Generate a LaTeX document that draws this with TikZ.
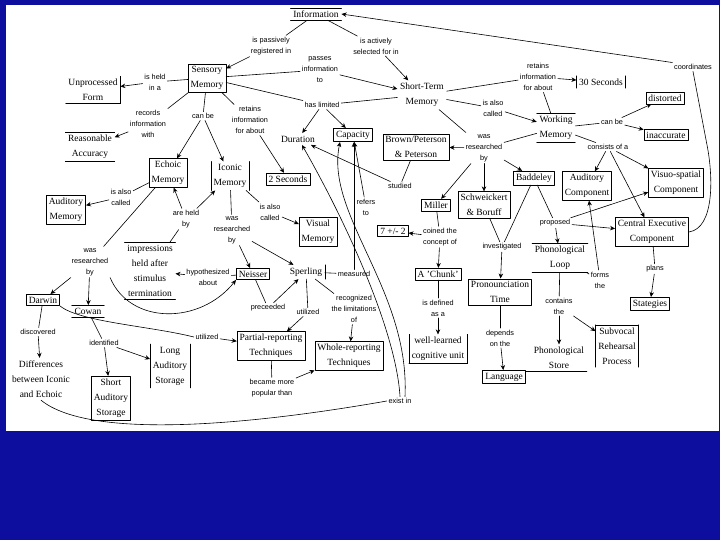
\documentclass[tikz,border=0pt]{standalone}
\usepackage{fontspec}
\setmainfont{Liberation Serif}
\newfontfamily\lblfont{Liberation Sans}
\usetikzlibrary{arrows.meta}
\definecolor{slideblue}{RGB}{14,14,158}
\begin{document}
\begin{tikzpicture}[x=1pt,y=-1pt,>={Stealth[length=5pt,width=4.5pt]},line width=0.6pt,line join=round,line cap=round,
	concept/.style={font=\fontsize{9.5}{15}\selectfont,align=center,inner sep=2.5pt},
	box/.style={concept,draw},
	hl/.style={concept,append after command={(\tikzlastnode.north west) edge (\tikzlastnode.north east) (\tikzlastnode.south west) edge (\tikzlastnode.south east)}},
	vl/.style={concept,append after command={(\tikzlastnode.north west) edge (\tikzlastnode.south west) (\tikzlastnode.north east) edge (\tikzlastnode.south east)}},
	rb/.style={concept,append after command={(\tikzlastnode.north east) edge (\tikzlastnode.south east) (\tikzlastnode.south west) edge (\tikzlastnode.south east)}},
	rl/.style={concept,append after command={(\tikzlastnode.north east) edge (\tikzlastnode.south east)}},
	lrb/.style={concept,append after command={(\tikzlastnode.north west) edge (\tikzlastnode.south west) (\tikzlastnode.south west) edge (\tikzlastnode.south east) (\tikzlastnode.south east) edge (\tikzlastnode.north east)}},
	tlr/.style={concept,append after command={(\tikzlastnode.south west) edge (\tikzlastnode.north west) (\tikzlastnode.north west) edge (\tikzlastnode.north east) (\tikzlastnode.north east) edge (\tikzlastnode.south east)}},
	lbl/.style={font=\lblfont\fontsize{7.3}{11}\selectfont,align=center,inner sep=1.5pt}]
	\useasboundingbox (0,0) rectangle (720,540);
	\fill[slideblue] (0,0) rectangle (720,540); % slide
	\fill[white] (6,5) rectangle (719,431);
	% concepts
	\node[hl] (info) at (316,14) {Information};
	\node[box] (sensory) at (207,78) {Sensory\\Memory};
	\node[rb] (unproc) at (93,90) {Unprocessed\\Form};
	\node[hl] (reason) at (90,147) {Reasonable\\Accuracy};
	\node[concept] (stm) at (422,95) {Short-Term\\Memory};
	\node[concept] (duration) at (298,139) {Duration};
	\node[box] (capacity) at (353,135) {Capacity};
	\node[box] (brown) at (416,147) {Brown/Peterson\\\& Peterson};
	\node[vl] (secthirty) at (601,82) {30 Seconds};
	\node[hl] (working) at (556,128) {Working\\Memory};
	\node[box] (distorted) at (665,98) {distorted};
	\node[box] (inaccurate) at (666,135) {inaccurate};
	\node[box] (echoic) at (168,173) {Echoic\\Memory};
	\node[vl] (iconic) at (230,176) {Iconic\\Memory};
	\node[box] (sectwo) at (288,179) {2 Seconds};
	\node[box] (audmem) at (66,210) {Auditory\\Memory};
	\node[box] (visual) at (318,232) {Visual\\Memory};
	\node[hl] (impress) at (150,271) {impressions\\held after\\stimulus\\termination};
	\node[box] (neisser) at (253,274) {Neisser};
	\node[rl] (sperling) at (306,272) {Sperling};
	\node[box] (baddeley) at (534,178) {Baddeley};
	\node[box] (schweick) at (484,205) {Schweickert\\\& Boruff};
	\node[box] (miller) at (436,205) {Miller};
	\node[box] (seven) at (393,231) {7 +/- 2};
	\node[box] (chunk) at (438,274) {A 'Chunk'};
	\node[lrb] (welllearn) at (438,349) {well-learned\\cognitive unit};
	\node[box] (audcomp) at (587,186) {Auditory\\Component};
	\node[box] (visuo) at (676,183) {Visuo-spatial\\Component};
	\node[box] (central) at (652,232) {Central Executive\\Component};
	\node[box] (stateg) at (650,304) {Stategies};
	\node[hl] (phonloop) at (560,258) {Phonological\\Loop};
	\node[box] (pron) at (500,292) {Pronounciation\\Time};
	\node[box] (language) at (504,377) {Language};
	\node[concept] (phonstore) at (559,358) {Phonological\\Store};
	\node[tlr] (subvocal) at (617,346) {Subvocal\\Rehearsal\\Process};
	\node[box] (partial) at (271,346) {Partial-reporting\\Techniques};
	\node[box] (whole) at (349,356) {Whole-reporting\\Techniques};
	\node[box] (darwin) at (43,300) {Darwin};
	\node[hl] (cowan) at (88,311) {Cowan};
	\node[concept] (differ) at (41,379) {Differences\\between Iconic\\and Echoic};
	\node[box] (shortaud) at (111,398) {Short\\Auditory\\Storage};
	\node[vl] (longaud) at (170,366) {Long\\Auditory\\Storage};
	% linking phrases
	\node[lbl] (lpassive) at (271,46) {is passively\\registered in};
	\node[lbl] (lactive) at (376,46) {is actively\\selected for in};
	\node[lbl] (lpasses) at (320,70) {passes\\information\\to};
	\node[lbl] (lheld) at (155,82) {is held\\in a};
	\node[lbl] (lrecords) at (148,124) {records\\information\\with};
	\node[lbl] (lcanbe) at (203,116) {can be};
	\node[lbl] (lretains) at (250,120) {retains\\information\\for about};
	\node[lbl] (llimited) at (322,105) {has limited};
	\node[lbl] (lretainsb) at (538,77) {retains\\information\\for about};
	\node[lbl] (lalsowm) at (493,108) {is also\\called};
	\node[lbl] (lcanbeb) at (612,122) {can be};
	\node[lbl] (lconsists) at (608,147) {consists of a};
	\node[lbl] (lresearched) at (484,148) {was\\researched\\by};
	\node[lbl] (lcoord) at (693,67) {coordinates};
	\node[lbl] (lalsoaud) at (121,197) {is also\\called};
	\node[lbl] (lalsovis) at (270,212) {is also\\called};
	\node[lbl] (lheldby) at (186,219) {are held\\by};
	\node[lbl] (lresearchic) at (232,230) {was\\researched\\by};
	\node[lbl] (lresearchec) at (90,262) {was\\researched\\by};
	\node[lbl] (lhypo) at (208,277) {hypothesized\\about};
	\node[lbl] (lstudied) at (400,186) {studied};
	\node[lbl] (lrefers) at (366,207) {refers\\to};
	\node[lbl] (lmeasured) at (354,274) {measured};
	\node[lbl] (lcoined) at (440,237) {coined the\\concept of};
	\node[lbl] (ldefined) at (438,308) {is defined\\as a};
	\node[lbl] (lproposed) at (555,223) {proposed};
	\node[lbl] (linvestig) at (502,247) {investigated};
	\node[lbl] (lforms) at (600,280) {forms\\the};
	\node[lbl] (lplans) at (655,269) {plans};
	\node[lbl] (ldepends) at (500,338) {depends\\on the};
	\node[lbl] (lcontains) at (559,306) {contains\\the};
	\node[lbl] (lpreceed) at (268,308) {preceeded};
	\node[lbl] (lutilsp) at (308,312) {utilized};
	\node[lbl] (lrecog) at (354,309) {recognized\\the limitations\\of};
	\node[lbl] (lpopular) at (272,388) {became more\\popular than};
	\node[lbl] (lutildar) at (207,337) {utilized};
	\node[lbl] (ldiscover) at (38,332) {discovered};
	\node[lbl] (lidentif) at (104,343) {identified};
	\node[lbl] (lexist) at (400,401) {exist in};
	% concept -- phrase
	\foreach \a/\b in {info/lpassive,info/lactive,sensory/lpasses,sensory/lheld,sensory/lrecords,sensory/lcanbe,
		sensory/lretains,sensory/llimited,stm/llimited,stm/lretainsb,working/lretainsb,stm/lalsowm,working/lcanbeb,
		working/lconsists,stm/lresearched,working/lresearched,echoic/lalsoaud,iconic/lalsovis,impress/lheldby,
		iconic/lresearchic,echoic/lresearchec,neisser/lhypo,brown/lstudied,sperling/lmeasured,miller/lcoined,
		chunk/ldefined,baddeley/lproposed,schweick/linvestig,baddeley/linvestig,phonloop/lforms,central/lplans,
		pron/ldepends,phonloop/lcontains,neisser/lpreceed,sperling/lutilsp,sperling/lrecog,partial/lpopular,
		darwin/ldiscover,cowan/lidentif}
		\draw (\a) -- (\b);
	% phrase -> concept
	\foreach \a/\b in {lpassive/sensory,lactive/stm,lpasses/stm,lheld/unproc,lrecords/reason,lcanbe/echoic,
		lcanbe/iconic,lretains/sectwo,llimited/duration,llimited/capacity,lretainsb/secthirty,lalsowm/working,
		lcanbeb/distorted,lcanbeb/inaccurate,lconsists/audcomp,lconsists/visuo,lconsists/central,lresearched/brown,
		lresearched/miller,lresearched/schweick,lresearched/baddeley,lalsoaud/audmem,lalsovis/visual,lheldby/echoic,
		lheldby/iconic,lresearchic/neisser,lresearchic/sperling,lresearchec/darwin,lresearchec/cowan,lhypo/impress,
		lstudied/duration,lrefers/capacity,lcoined/seven,lcoined/chunk,ldefined/welllearn,lproposed/phonloop,
		lproposed/central,lproposed/visuo,linvestig/pron,lforms/audcomp,lplans/stateg,ldepends/language,
		lcontains/phonstore,lcontains/subvocal,lpreceed/sperling,lutilsp/partial,lrecog/whole,lpopular/whole,
		lutildar/partial,ldiscover/differ,lidentif/shortaud,lidentif/longaud}
		\draw[->] (\a) -- (\b);
	% long ones
	\draw[->] (lcoord.north west) -- (info.east);
	\draw (central.east) .. controls (715,228) and (713,175) .. (707,145) -- (lcoord.south);
	\draw[->] (lmeasured.north) -- (lmeasured.north |- capacity.south);
	\draw[->] (lresearchec.south east) .. controls (130,325) and (200,325) .. (neisser.south west);
	\draw (darwin.south east) .. controls (80,322) and (150,326) .. (lutildar.west);
	\draw (differ.south) .. controls (90,440) and (250,425) .. (lexist.west);
	\draw[->] (lexist.north) .. controls (396,330) and (345,220) .. ([xshift=4pt]duration.south);
	\draw[->] ([xshift=5pt]lexist.north) .. controls (410,290) and (325,215) .. ([xshift=-13pt]capacity.south);
	\draw (language.east |- phonstore.south) -- (phonstore.south east);
\end{tikzpicture}
\end{document}
